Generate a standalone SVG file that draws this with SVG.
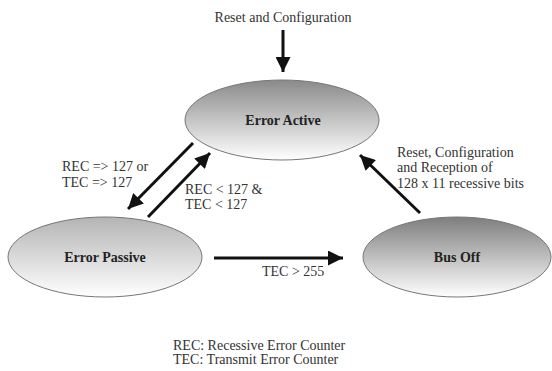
<svg xmlns="http://www.w3.org/2000/svg" width="552" height="371" viewBox="0 0 552 371">
<defs>
<linearGradient id="gA" x1="0" y1="0" x2="0" y2="1"><stop offset="0" stop-color="#8a8a8a"/><stop offset="1" stop-color="#ffffff"/></linearGradient>
<linearGradient id="gP" x1="0" y1="0" x2="0" y2="1"><stop offset="0" stop-color="#b4b4b4"/><stop offset="1" stop-color="#ffffff"/></linearGradient>
<linearGradient id="gB" x1="0" y1="0" x2="0" y2="1"><stop offset="0" stop-color="#7e7e7e"/><stop offset="1" stop-color="#ffffff"/></linearGradient>
<marker id="ah" viewBox="0 0 10 10" refX="10" refY="5" markerWidth="5" markerHeight="5" orient="auto" markerUnits="strokeWidth"><path d="M0,0 L10,5 L0,10 z" fill="#111"/></marker>
<style>
.n{stroke:#777;stroke-width:1}
.t{font-family:"Liberation Serif","Times New Roman",serif;font-size:14px;fill:#333}
.b{font-family:"Liberation Serif","Times New Roman",serif;font-size:14px;font-weight:bold;fill:#222;text-anchor:middle}
.c{stroke:#111;stroke-width:3;fill:none;marker-end:url(#ah)}
</style>
</defs>
<rect width="552" height="371" fill="#fff"/>
<text class="t" x="283" y="22" text-anchor="middle">Reset and Configuration</text>
<g id="active"><ellipse class="n" cx="282" cy="120" rx="97" ry="40" fill="url(#gA)"/><text class="b" x="283" y="125">Error Active</text></g>
<g id="passive"><ellipse class="n" cx="105" cy="257" rx="97" ry="40" fill="url(#gP)"/><text class="b" x="105" y="262">Error Passive</text></g>
<g id="busoff"><ellipse class="n" cx="457" cy="257" rx="94" ry="40" fill="url(#gB)"/><text class="b" x="457" y="262">Bus Off</text></g>
<g id="connectors">
<line class="c" x1="283" y1="30" x2="283" y2="72"/>
<line class="c" x1="193" y1="143" x2="128" y2="209"/>
<line class="c" x1="148" y1="217" x2="210" y2="153"/>
<line class="c" x1="214" y1="258" x2="343" y2="258"/>
<line class="c" x1="420" y1="213" x2="360" y2="155"/>
</g>
<text class="t" x="62" y="171">REC =&gt; 127 or</text>
<text class="t" x="62" y="187">TEC =&gt; 127</text>
<text class="t" x="185" y="194">REC &lt; 127 &amp;</text>
<text class="t" x="185" y="209">TEC &lt; 127</text>
<text class="t" x="397" y="157">Reset, Configuration</text>
<text class="t" x="397" y="172">and Reception of</text>
<text class="t" x="397" y="188">128 x 11 recessive bits</text>
<text class="t" x="262" y="276">TEC &gt; 255</text>
<text class="t" x="173" y="350">REC: Recessive Error Counter</text>
<text class="t" x="173" y="364">TEC: Transmit Error Counter</text>
</svg>
